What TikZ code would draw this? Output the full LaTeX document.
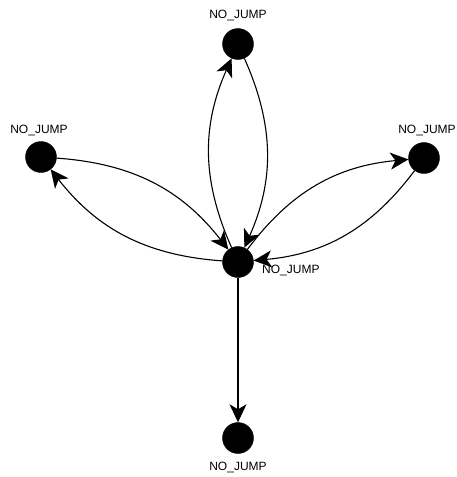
\documentclass[tikz,border=0pt]{standalone}
\usepackage{fontspec}
\setmainfont{Liberation Sans}
\usetikzlibrary{arrows.meta}
\begin{document}
\begin{tikzpicture}[x=1pt,y=-1pt,
  state/.style={circle,fill=black,draw=black,minimum size=31pt,inner sep=0pt},
  lbl/.style={font=\fontsize{12}{13}\selectfont,inner sep=0pt},
  edge/.style={line width=1.1pt,-{Stealth[length=18pt,width=17pt,inset=5pt]}}]
\useasboundingbox (0,0) rectangle (456,477);
\node[state] (top) at (238,44) {};
\node[state] (left) at (41,157) {};
\node[state] (right) at (424,158) {};
\node[state] (mid) at (238,262) {};
\node[state] (bot) at (238,438) {};
\node[lbl] (ltop) at (238,16) {NO\_JUMP};
\node[lbl] (lleft) at (39,130) {NO\_JUMP};
\node[lbl] (lright) at (427,130) {NO\_JUMP};
\node[lbl,anchor=west] (lmid) at (262,270) {NO\_JUMP};
\node[lbl] (lbot) at (238,467) {NO\_JUMP};
\draw[edge] (mid) to[bend left=24] (top);
\draw[edge] (top) to[bend left=24] (mid);
\draw[edge] (left) to[bend left=24] (mid);
\draw[edge] (mid) to[bend left=24] (left);
\draw[edge] (mid) to[bend left=24] (right);
\draw[edge] (right) to[bend left=24] (mid);
\draw[edge] (mid) -- (bot);
\end{tikzpicture}
\end{document}
